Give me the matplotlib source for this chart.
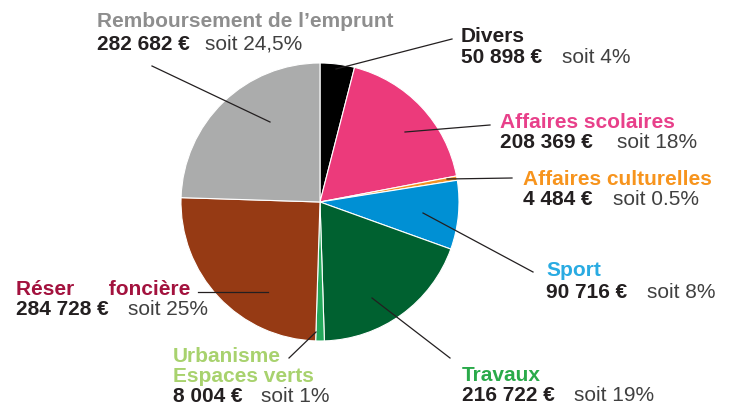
import matplotlib
matplotlib.use("Agg")
import matplotlib.pyplot as plt

# ---- data ----
categories = ["Divers", "Affaires scolaires", "Affaires culturelles", "Sport",
              "Travaux", "Urbanisme\nEspaces verts", "Réser      foncière",
              "Remboursement de l’emprunt"]
amounts = ["50 898 €", "208 369 €", "4 484 €", "90 716 €",
           "216 722 €", "8 004 €", "284 728 €", "282 682 €"]
percents = [4, 18, 0.5, 8, 19, 1, 25, 24.5]
percent_labels = ["soit 4%", "soit 18%", "soit 0.5%", "soit 8%",
                  "soit 19%", "soit 1%", "soit 25%", "soit 24,5%"]

wedge_colors = ["#000000", "#EC3A7B", "#F39325", "#0090D4",
                "#006130", "#22A85A", "#963A14", "#ABACAC"]
label_colors = ["#231F20", "#E8408A", "#F7941D", "#29ABE2",
                "#2AAA4A", "#A8D26E", "#A3123E", "#8E8E8E"]

# layout (pixel coords, y from top)
W, H = 731, 407
title_pos = [(461, 42), (500, 128), (523, 185), (546, 276),
             (462, 381), (173, 362), (16, 295), (97, 27)]
amount_y = [63, 148, 205, 298, 401, 402, 315, 50]
soit_x = [562, 617, 613, 647, 574, 261, 128, 205]
leaders = [((336, 69), (452, 39)), ((405, 132), (490, 125)),
           ((447, 179), (512, 178)), ((423, 213), (533, 272)),
           ((372, 298), (450, 358)), ((316, 332), (289, 358)),
           ((268, 292), (198, 292)), ((270, 122), (152, 66))]

plt.rcParams['font.family'] = ['Liberation Sans', 'DejaVu Sans']

fig = plt.figure(figsize=(W / 100, H / 100), dpi=100)
ax = fig.add_axes([0, 0, 1, 1])

def Y(y):
    return H - y

ax.pie(percents, colors=wedge_colors, startangle=90, counterclock=False,
       center=(320, Y(202)), radius=139, frame=True,
       wedgeprops=dict(edgecolor="white", linewidth=0.8))
ax.set_xlim(0, W)
ax.set_ylim(0, H)
ax.set_aspect('auto')
ax.axis('off')

fs = 15
for i, cat in enumerate(categories):
    (x0, y0), (x1, y1) = leaders[i]
    ax.plot([x0, x1], [Y(y0), Y(y1)], color="#231F20", lw=0.9)
    tx, ty = title_pos[i]
    lines = cat.split("\n")
    for k, line in enumerate(lines):
        ax.text(tx, Y(ty + 20 * k), line, color=label_colors[i], fontsize=fs,
                fontweight="bold", ha="left", va="baseline")
    ax.text(tx, Y(amount_y[i]), amounts[i], color="#231F20", fontsize=fs,
            fontweight="bold", ha="left", va="baseline")
    ax.text(soit_x[i], Y(amount_y[i]), percent_labels[i], color="#404040",
            fontsize=fs, ha="left", va="baseline")

fig.savefig("out.png", dpi=100)
